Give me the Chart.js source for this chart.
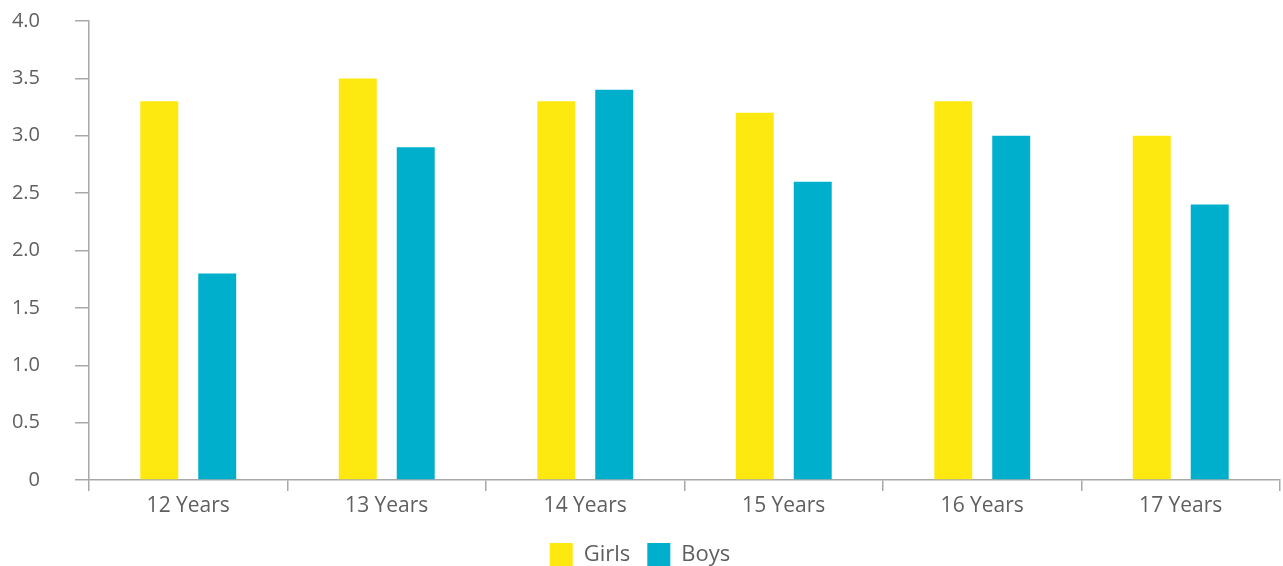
<!DOCTYPE html>
<html>
<head>
<meta charset="utf-8">
<script src="https://cdn.jsdelivr.net/npm/chart.js@4/dist/chart.umd.min.js"></script>
<style>
  html, body { margin: 0; padding: 0; background: #fff; }
  #wrap { width: 1283px; height: 566px; }
</style>
</head>
<body>
<div id="wrap"><canvas id="grafico"></canvas></div>
<script>
const categorias = ['12 Years', '13 Years', '14 Years', '15 Years', '16 Years', '17 Years'];
const meninas = [3.3, 3.5, 3.3, 3.2, 3.3, 3.0];
const meninos = [1.8, 2.9, 3.4, 2.6, 3.0, 2.4];

const corTexto = '#5f5f5f';
const corEixo = '#a8a8a8';
const fonte = { family: 'Open Sans', weight: 400 };

new Chart(document.getElementById('grafico').getContext('2d'), {
  type: 'bar',
  data: {
    labels: categorias,
    datasets: [
      { label: 'Girls', data: meninas, backgroundColor: '#fde910' },
      { label: 'Boys', data: meninos, backgroundColor: '#00afcb' }
    ]
  },
  options: {
    responsive: true,
    maintainAspectRatio: false,
    animation: false,
    datasets: { bar: { categoryPercentage: 0.584, barPercentage: 0.655 } },
    // bottom is negative so the legend runs off the canvas edge like the original
    layout: { padding: { top: 21, right: 3, left: 0, bottom: -10 } },
    plugins: {
      tooltip: { enabled: false },
      legend: {
        position: 'bottom',
        labels: {
          boxWidth: 23, boxHeight: 23, padding: 17,
          color: corTexto,
          font: { ...fonte, size: 22 }
        }
      }
    },
    scales: {
      x: {
        grid: { drawOnChartArea: false, tickLength: 11, color: corEixo, lineWidth: 1.5 },
        border: { color: corEixo, width: 1.5 },
        ticks: { color: corTexto, padding: 2, font: { ...fonte, size: 21 } },
        afterFit: s => { s.height = 46; }
      },
      y: {
        min: 0, max: 4,
        grid: { drawOnChartArea: false, tickLength: 14, color: corEixo, lineWidth: 1.5 },
        border: { color: corEixo, width: 1.5 },
        ticks: {
          stepSize: 0.5, color: corTexto, padding: 35,
          font: { ...fonte, size: 20 },
          callback: v => v === 0 ? '0' : v.toFixed(1)
        },
        afterFit: s => { s.width = 89; s.paddingTop = 0; s.paddingBottom = 0; }
      }
    }
  }
});
</script>
</body>
</html>
